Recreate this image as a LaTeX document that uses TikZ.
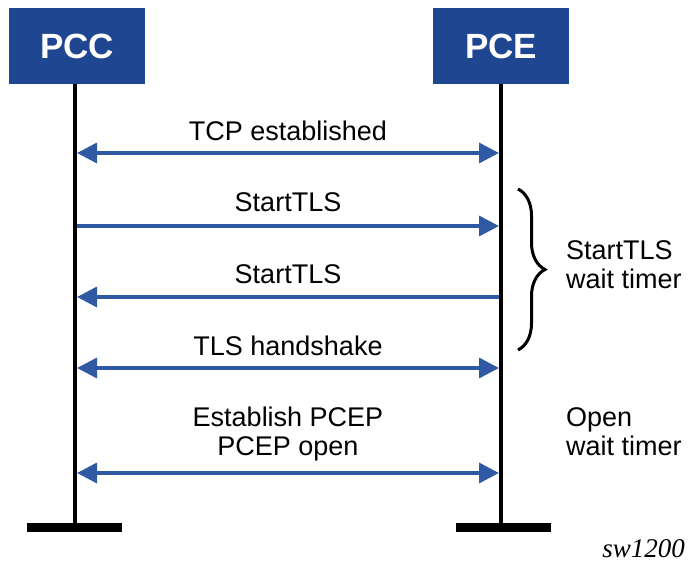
\documentclass[tikz,border=0pt]{standalone}
\usepackage{fontspec}
\setmainfont{Liberation Sans}
\newfontfamily\tagfont{Liberation Serif}
\usetikzlibrary{arrows.meta,decorations.pathreplacing}
\definecolor{boxblue}{HTML}{1F4690}
\definecolor{msgblue}{HTML}{2F5AA3}

\begin{document}
\begin{tikzpicture}[x=1pt,y=-1pt,
  entity/.style={fill=boxblue, text=white, inner sep=0pt,
    minimum width=136pt, minimum height=76pt,
    font=\fontsize{35}{40}\selectfont\bfseries},
  life/.style={line width=3.5pt},
  foot/.style={line width=9pt},
  msg/.style={line width=3.5pt, msgblue, -{Triangle[length=20pt,width=20pt]}},
  both/.style={msg, {Triangle[length=20pt,width=20pt]}-{Triangle[length=20pt,width=20pt]}},
  lbl/.style={font=\fontsize{27}{29}\selectfont, inner sep=0pt, anchor=base},
  note/.style={font=\fontsize{27}{29}\selectfont, inner sep=0pt, anchor=base west, align=left}]
  \useasboundingbox (0,0) rectangle (688,572);

  % entities and lifelines
  \node[entity] (pcc) at (77,46) {PCC};
  \node[entity] (pce) at (501,46) {PCE};
  \coordinate (pccend) at (75,527);
  \coordinate (pceend) at (501,527);
  \draw[life] (pcc.south -| pccend) -- (pccend);
  \draw[life] (pce.south -| pceend) -- (pceend);
  \draw[foot] (27,527) -- (122,527);
  \draw[foot] (456,527) -- (551,527);

  % message ends on the lifelines
  \foreach \n/\y in {tcp/153, tlsa/226, tlsb/297, hand/368, open/473} {
    \coordinate (l\n) at (77,\y);
    \coordinate (r\n) at (499,\y);
  }

  % messages
  \draw[both] (ltcp) -- (rtcp);
  \node[lbl] (tcptext) at (288,141) {TCP established};
  \draw[msg] (ltlsa) -- (rtlsa);
  \node[lbl] (tlsatext) at (288,212) {StartTLS};
  \draw[msg] (rtlsb) -- (ltlsb);
  \node[lbl] (tlsbtext) at (288,283) {StartTLS};
  \draw[both] (lhand) -- (rhand);
  \node[lbl] (handtext) at (288,355) {TLS handshake};
  \draw[both] (lopen) -- (ropen);
  \node[lbl] (esttext) at (288,426) {Establish PCEP};
  \node[lbl] (opentext) at (288,455) {PCEP open};

  % timers
  \draw[line width=3pt, decorate, decoration={brace, amplitude=27pt, aspect=0.5}]
    (518,189) -- (518,350);
  \node[note] (tlstimer) at (566,288) {StartTLS\\wait timer};
  \node[note] (opentimer) at (566,455) {Open\\wait timer};

  \node[font=\tagfont\itshape\fontsize{27}{30}\selectfont, inner sep=0pt, anchor=base east]
    (tag) at (685,557) {sw1200};
\end{tikzpicture}
\end{document}
